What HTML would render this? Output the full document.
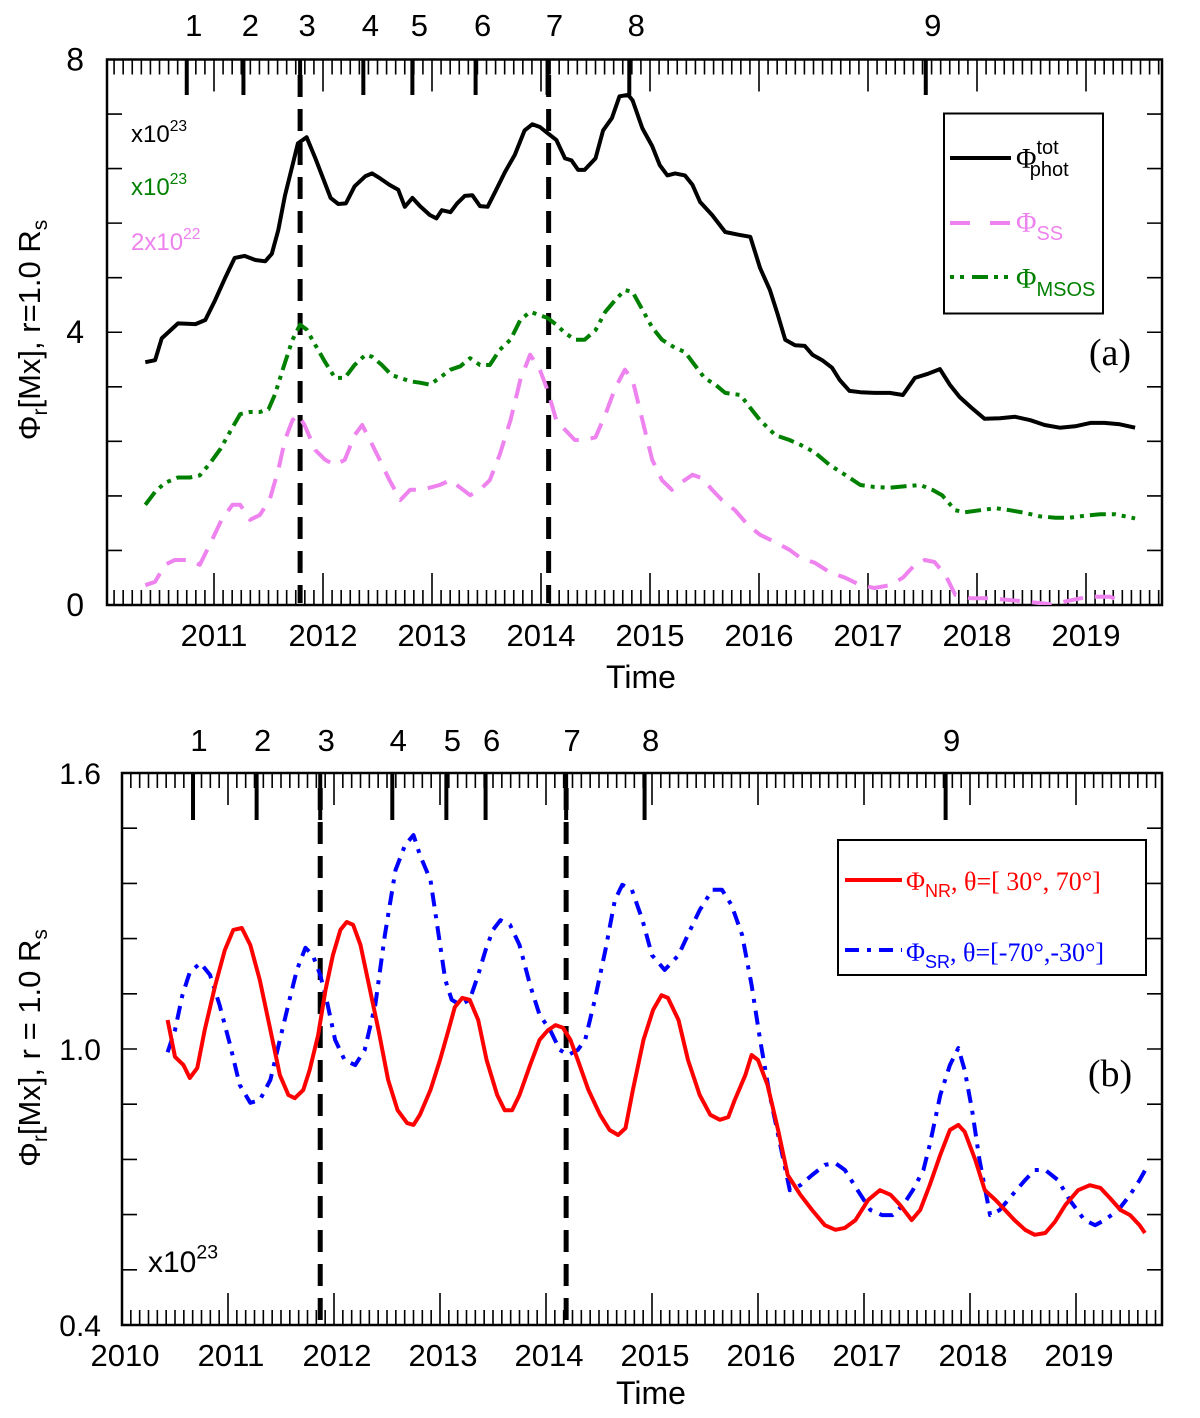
<!DOCTYPE html>
<html><head><meta charset="utf-8"><style>
html,body{margin:0;padding:0;background:#fff}
svg{display:block;font-family:"Liberation Sans",sans-serif}
</style></head><body>
<svg id="fig" width="1200" height="1418" viewBox="0 0 1200 1418" xmlns="http://www.w3.org/2000/svg">
<defs>
<clipPath id="clipA"><rect x="107" y="59.5" width="1055" height="545.5"/></clipPath>
<clipPath id="clipB"><rect x="122" y="773" width="1040" height="552"/></clipPath>
</defs>
<g id="A"></g>
<g id="B"></g>
</svg>
<script>
// ---------- Panel (a) data ----------
const totT=[2010.37,2010.46,2010.52,2010.67,2010.83,2010.92,2011.01,2011.10,2011.19,2011.28,2011.38,2011.47,2011.53,2011.59,2011.65,2011.72,2011.77,2011.85,2011.93,2012.00,2012.07,2012.14,2012.21,2012.29,2012.39,2012.45,2012.52,2012.61,2012.69,2012.75,2012.82,2012.89,2012.98,2013.04,2013.09,2013.17,2013.23,2013.30,2013.37,2013.44,2013.51,2013.58,2013.67,2013.76,2013.85,2013.92,2013.99,2014.06,2014.14,2014.22,2014.28,2014.34,2014.40,2014.50,2014.57,2014.65,2014.72,2014.80,2014.84,2014.93,2015.02,2015.09,2015.16,2015.23,2015.32,2015.39,2015.46,2015.57,2015.69,2015.81,2015.92,2016.01,2016.10,2016.17,2016.24,2016.33,2016.42,2016.49,2016.58,2016.67,2016.74,2016.83,2016.93,2017.06,2017.20,2017.32,2017.43,2017.55,2017.66,2017.75,2017.84,2017.95,2018.07,2018.21,2018.35,2018.49,2018.62,2018.76,2018.90,2019.04,2019.17,2019.31,2019.45];
const totV=[3.56,3.59,3.91,4.13,4.12,4.18,4.47,4.79,5.09,5.12,5.06,5.04,5.15,5.50,6.00,6.45,6.77,6.86,6.55,6.26,5.97,5.88,5.89,6.14,6.29,6.33,6.26,6.16,6.09,5.84,5.97,5.85,5.72,5.67,5.79,5.76,5.89,6.00,6.01,5.85,5.84,6.06,6.35,6.60,6.96,7.05,7.01,6.92,6.82,6.55,6.52,6.38,6.38,6.55,6.96,7.14,7.46,7.48,7.40,6.99,6.73,6.45,6.30,6.33,6.30,6.16,5.91,5.72,5.47,5.43,5.40,4.94,4.62,4.27,3.89,3.81,3.80,3.67,3.59,3.48,3.30,3.14,3.12,3.11,3.11,3.08,3.33,3.39,3.46,3.23,3.05,2.89,2.73,2.74,2.76,2.71,2.64,2.60,2.62,2.67,2.67,2.65,2.60];
const msosT=[2010.37,2010.46,2010.55,2010.67,2010.78,2010.87,2010.96,2011.06,2011.15,2011.24,2011.33,2011.42,2011.50,2011.56,2011.63,2011.72,2011.79,2011.85,2011.93,2012.02,2012.11,2012.20,2012.29,2012.39,2012.45,2012.54,2012.63,2012.71,2012.80,2012.89,2012.98,2013.07,2013.17,2013.26,2013.35,2013.44,2013.53,2013.62,2013.72,2013.81,2013.90,2013.99,2014.06,2014.14,2014.22,2014.31,2014.40,2014.50,2014.59,2014.68,2014.77,2014.84,2014.93,2015.02,2015.11,2015.23,2015.32,2015.41,2015.50,2015.60,2015.69,2015.83,2015.92,2016.01,2016.15,2016.28,2016.38,2016.51,2016.65,2016.79,2016.93,2017.06,2017.20,2017.34,2017.48,2017.59,2017.68,2017.80,2017.89,2018.03,2018.17,2018.30,2018.44,2018.58,2018.72,2018.85,2018.99,2019.13,2019.27,2019.45];
const msosV=[1.47,1.66,1.79,1.87,1.87,1.90,2.07,2.29,2.55,2.80,2.83,2.83,2.87,3.09,3.45,3.89,4.11,4.04,3.81,3.56,3.33,3.33,3.52,3.67,3.64,3.52,3.37,3.33,3.28,3.26,3.23,3.33,3.45,3.50,3.62,3.52,3.52,3.74,3.89,4.18,4.30,4.25,4.21,4.11,3.99,3.89,3.89,4.03,4.30,4.47,4.62,4.59,4.33,4.07,3.89,3.77,3.71,3.52,3.33,3.23,3.11,3.08,2.89,2.71,2.49,2.42,2.35,2.24,2.05,1.91,1.76,1.73,1.72,1.74,1.76,1.69,1.61,1.39,1.36,1.39,1.42,1.39,1.35,1.30,1.28,1.28,1.31,1.33,1.33,1.27];
const ssT=[2010.37,2010.46,2010.55,2010.64,2010.78,2010.87,2010.96,2011.07,2011.17,2011.24,2011.33,2011.42,2011.51,2011.59,2011.65,2011.72,2011.77,2011.83,2011.93,2012.02,2012.11,2012.20,2012.29,2012.36,2012.43,2012.52,2012.61,2012.71,2012.80,2012.89,2012.98,2013.07,2013.17,2013.26,2013.35,2013.44,2013.53,2013.62,2013.72,2013.81,2013.90,2013.99,2014.06,2014.14,2014.22,2014.31,2014.40,2014.50,2014.59,2014.68,2014.77,2014.84,2014.93,2015.02,2015.11,2015.20,2015.29,2015.39,2015.48,2015.57,2015.66,2015.78,2015.90,2016.01,2016.15,2016.28,2016.38,2016.51,2016.65,2016.79,2016.93,2017.06,2017.20,2017.32,2017.43,2017.52,2017.61,2017.71,2017.80,2017.94,2018.12,2018.38,2018.68,2019.02,2019.22,2019.36];
const ssV=[0.29,0.34,0.59,0.66,0.66,0.59,0.88,1.25,1.47,1.47,1.25,1.32,1.54,1.98,2.42,2.71,2.79,2.64,2.27,2.13,2.05,2.13,2.49,2.64,2.42,2.13,1.83,1.54,1.69,1.69,1.72,1.76,1.83,1.72,1.61,1.69,1.83,2.20,2.71,3.30,3.67,3.45,3.15,2.71,2.57,2.42,2.42,2.46,2.79,3.18,3.45,3.30,2.71,2.13,1.83,1.69,1.80,1.91,1.86,1.69,1.54,1.39,1.17,1.03,0.92,0.81,0.69,0.62,0.48,0.40,0.29,0.25,0.29,0.40,0.59,0.66,0.63,0.44,0.15,0.10,0.10,0.06,0.01,0.12,0.12,0.04];
const yearLabels=[2011,2012,2013,2014,2015,2016,2017,2018,2019];
const yTicksA=[0,4,8];
const eventsA=[2010.75,2011.27,2011.79,2012.37,2012.82,2013.40,2014.06,2014.81,2017.53];
const eventLabels=["1","2","3","4","5","6","7","8","9"];
const dashedA=[2011.79,2014.07];
// ---------- Panel (b) data ----------
const nrT=[2010.43,2010.50,2010.58,2010.64,2010.71,2010.78,2010.88,2010.97,2011.05,2011.13,2011.21,2011.30,2011.40,2011.49,2011.57,2011.63,2011.71,2011.77,2011.85,2011.92,2011.99,2012.06,2012.12,2012.18,2012.25,2012.32,2012.42,2012.51,2012.60,2012.69,2012.75,2012.81,2012.91,2013.00,2013.08,2013.14,2013.21,2013.28,2013.36,2013.44,2013.54,2013.61,2013.68,2013.75,2013.85,2013.94,2014.02,2014.09,2014.16,2014.23,2014.30,2014.40,2014.51,2014.60,2014.68,2014.75,2014.82,2014.92,2015.01,2015.09,2015.15,2015.25,2015.34,2015.45,2015.55,2015.64,2015.72,2015.78,2015.88,2015.94,2016.00,2016.09,2016.19,2016.28,2016.40,2016.51,2016.63,2016.73,2016.82,2016.92,2017.04,2017.15,2017.25,2017.34,2017.45,2017.53,2017.62,2017.72,2017.81,2017.89,2017.95,2018.05,2018.14,2018.24,2018.33,2018.42,2018.52,2018.61,2018.71,2018.80,2018.90,2019.02,2019.13,2019.23,2019.32,2019.42,2019.51,2019.60,2019.65];
const nrV=[1.063,0.983,0.965,0.937,0.959,1.041,1.139,1.215,1.259,1.263,1.226,1.150,1.041,0.943,0.900,0.893,0.911,0.954,1.030,1.128,1.204,1.259,1.276,1.270,1.226,1.150,1.041,0.933,0.867,0.839,0.835,0.857,0.911,0.976,1.041,1.091,1.111,1.107,1.063,0.976,0.900,0.867,0.867,0.900,0.965,1.020,1.041,1.052,1.046,1.020,0.976,0.911,0.857,0.824,0.813,0.828,0.911,1.020,1.085,1.117,1.111,1.063,0.976,0.900,0.857,0.846,0.852,0.889,0.943,0.987,0.976,0.922,0.824,0.726,0.683,0.650,0.617,0.607,0.611,0.628,0.672,0.693,0.683,0.661,0.628,0.650,0.704,0.770,0.824,0.835,0.820,0.759,0.693,0.672,0.650,0.628,0.607,0.596,0.600,0.624,0.661,0.693,0.704,0.698,0.676,0.650,0.639,0.617,0.600];
const srT=[2010.43,2010.50,2010.57,2010.64,2010.74,2010.83,2010.92,2011.02,2011.11,2011.21,2011.30,2011.40,2011.49,2011.58,2011.65,2011.73,2011.80,2011.87,2011.93,2012.01,2012.10,2012.20,2012.29,2012.39,2012.48,2012.58,2012.67,2012.75,2012.81,2012.91,2012.98,2013.05,2013.11,2013.19,2013.28,2013.36,2013.43,2013.50,2013.57,2013.66,2013.75,2013.85,2013.94,2014.04,2014.13,2014.21,2014.30,2014.37,2014.46,2014.56,2014.65,2014.72,2014.81,2014.91,2015.00,2015.12,2015.25,2015.36,2015.45,2015.57,2015.66,2015.75,2015.85,2015.94,2016.02,2016.11,2016.21,2016.30,2016.40,2016.51,2016.63,2016.73,2016.82,2016.94,2017.06,2017.17,2017.27,2017.37,2017.46,2017.56,2017.62,2017.72,2017.81,2017.89,2017.95,2018.02,2018.09,2018.19,2018.28,2018.40,2018.52,2018.61,2018.71,2018.83,2018.94,2019.08,2019.18,2019.27,2019.40,2019.51,2019.60,2019.68];
const srV=[0.993,1.041,1.117,1.167,1.187,1.161,1.096,1.009,0.922,0.883,0.889,0.933,1.020,1.107,1.172,1.220,1.204,1.161,1.107,1.020,0.976,0.965,0.998,1.096,1.248,1.389,1.443,1.465,1.422,1.367,1.259,1.150,1.107,1.096,1.107,1.161,1.215,1.259,1.280,1.270,1.226,1.139,1.074,1.041,0.998,0.987,0.998,1.020,1.107,1.215,1.324,1.357,1.346,1.280,1.204,1.172,1.204,1.259,1.302,1.346,1.346,1.313,1.248,1.139,1.020,0.900,0.791,0.693,0.704,0.726,0.748,0.752,0.737,0.693,0.650,0.639,0.639,0.661,0.693,0.737,0.791,0.900,0.965,1.002,0.954,0.867,0.759,0.639,0.650,0.683,0.715,0.737,0.737,0.715,0.672,0.628,0.617,0.628,0.650,0.683,0.715,0.748];
const yearLabelsB=[2010,2011,2012,2013,2014,2015,2016,2017,2018,2019];
const yTicksB=[0.4,1.0,1.6];
const eventsB=[2010.67,2011.27,2011.87,2012.55,2013.06,2013.43,2014.19,2014.93,2017.77];
const dashedB=[2011.87,2014.19];

const NS="http://www.w3.org/2000/svg";
function mk(parent,tag,attrs,text){const e=document.createElementNS(NS,tag);for(const k in attrs)e.setAttribute(k,attrs[k]);if(text!==undefined)e.textContent=text;parent.appendChild(e);return e;}

const xA=t=>214+(t-2011)*109, yA=v=>605-v*68.19;
const xB=t=>122+(t-2010)*106, yB=v=>1325-(v-0.4)*460;

function frame(g,L,T,R,Bm,xf,t0,t1,name){
  let r=mk(g,'rect',{x:L,y:T,width:R-L,height:Bm-T,fill:'none',stroke:'#000','stroke-width':2.5});
  
  
  let d='';
  for(let m=Math.ceil(t0*12);m<=t1*12;m++){
    const t=m/12,x=xf(t); if(x<L+1||x>R-1)continue;
    const yr=(m%12===0), len=yr?32:15;
    d+=`M${x} ${Bm}v${-len}M${x} ${T}v${len}`;
  }
  let p=mk(g,'path',{d:d,stroke:'#000','stroke-width':1.6,fill:'none'});
  
  
}
function curve(g,T,V,xf,yf,attrs,name,clip){
  let d=T.map((t,i)=>(i?'L':'M')+xf(t).toFixed(1)+' '+yf(V[i]).toFixed(1)).join('');
  let p=mk(g,'path',Object.assign({d:d,fill:'none','stroke-linejoin':'round','clip-path':clip},attrs));
  
  
}
function txt(g,x,y,s,attrs,name){let e=mk(g,'text',Object.assign({x:x,y:y},attrs),s);return e;}

// ---------- Panel A ----------
const A=document.getElementById('A');
frame(A,107,59.5,1162,605,xA,2010,2020,'panel-a');
let dy='';
for(let i=1;i<10;i++){const y=yA(i*0.8);dy+=`M107 ${y}h15M1162 ${y}h-15`;}
let pya=mk(A,'path',{d:dy,stroke:'#000','stroke-width':1.6});


yTicksA.forEach(v=>txt(A,84,yA(v)+11,String(v),{'font-size':32,'text-anchor':'end'},'y-tick-label-a'));
yearLabels.forEach(y=>txt(A,xA(y),646,String(y),{'font-size':31,'text-anchor':'middle'},'x-tick-label-a'));
txt(A,641,688,'Time',{'font-size':32,'text-anchor':'middle'},'x-axis-title-a');
eventsA.forEach((t,i)=>{
  let l=mk(A,'line',{x1:xA(t),x2:xA(t),y1:59.5,y2:95,stroke:'#000','stroke-width':4});
  
  
  txt(A,xA(t)+7,36,eventLabels[i],{'font-size':31,'text-anchor':'middle'},'event-label-a');
});
dashedA.forEach(t=>{
  let l=mk(A,'line',{x1:xA(t),x2:xA(t),y1:75,y2:603,stroke:'#000','stroke-width':5,'stroke-dasharray':'22 12'});
  
  
});
curve(A,ssT,ssV,xA,yA,{stroke:'#ee82ee','stroke-width':4,'stroke-dasharray':'20 12'},'ss-series','url(#clipA)');
curve(A,msosT,msosV,xA,yA,{stroke:'#008000','stroke-width':4,'stroke-dasharray':'16 6 4 6 4 6'},'msos-series','url(#clipA)');
curve(A,totT,totV,xA,yA,{stroke:'#000','stroke-width':4},'phot-tot-series','url(#clipA)');
function sci(g,x,y,pre,exp,col,fs,name){let t=txt(g,x,y,'',{'font-size':fs,fill:col},name);mk(t,'tspan',{},pre);mk(t,'tspan',{dy:-fs*0.45,'font-size':fs*0.65},exp);}
sci(A,131,142,'x10','23','#000',24,'scale-note-black');
sci(A,131,195,'x10','23','#008000',24,'scale-note-green');
sci(A,131,250,'2x10','22','#ee82ee',24,'scale-note-pink');
txt(A,1110,365,'(a)',{'font-size':38,'font-family':'Liberation Serif,serif','text-anchor':'middle'},'panel-label-a');
const LA=mk(A,'g',{});


mk(LA,'rect',{x:944,y:113.5,width:159,height:200,fill:'#fff',stroke:'#000','stroke-width':2});
mk(LA,'line',{x1:950,x2:1011,y1:158,y2:158,stroke:'#000','stroke-width':4});
mk(LA,'line',{x1:950,x2:1011,y1:223,y2:223,stroke:'#ee82ee','stroke-width':4,'stroke-dasharray':'20 20'});
mk(LA,'line',{x1:950,x2:1011,y1:277,y2:277,stroke:'#008000','stroke-width':4,'stroke-dasharray':'4 6 4 8 16 6 4 6'});
function phi(g,x,y,sub,sup,col,name){let t=txt(g,x,y,'',{'font-size':28,fill:col,'font-family':'Liberation Serif,serif'},name);mk(t,'tspan',{},'Φ');
 if(sup){mk(t,'tspan',{dx:0,dy:-14,'font-size':20,'font-family':'Liberation Sans,sans-serif'},sup);mk(t,'tspan',{dx:-29,dy:22,'font-size':20,'font-family':'Liberation Sans,sans-serif'},sub);}
 else mk(t,'tspan',{dy:8,'font-size':20,'font-family':'Liberation Sans,sans-serif'},sub);return t;}
phi(LA,1016,168,'phot','tot','#000','legend-phot-tot');
phi(LA,1016,232,'SS',null,'#ee82ee','legend-ss');
phi(LA,1016,288,'MSOS',null,'#008000','legend-msos');
let ta=txt(A,0,0,'',{'font-size':31,transform:'translate(40,330) rotate(-90)','text-anchor':'middle'},'y-axis-title-a');
mk(ta,'tspan',{},'Φ');mk(ta,'tspan',{dy:7,'font-size':21},'r');mk(ta,'tspan',{dy:-7},'[Mx], r=1.0 R');mk(ta,'tspan',{dy:7,'font-size':21},'s');

// ---------- Panel B ----------
const B=document.getElementById('B');
frame(B,122,773,1162,1325,xB,2010,2020,'panel-b');
let dyb='';
for(let i=1;i<10;i++){const y=yB(0.4+i*0.12);dyb+=`M122 ${y}h15M1162 ${y}h-15`;}
let pyb=mk(B,'path',{d:dyb,stroke:'#000','stroke-width':1.6});


yTicksB.forEach(v=>txt(B,101,yB(v)+11,v.toFixed(1),{'font-size':30,'text-anchor':'end'},'y-tick-label-b'));
yearLabelsB.forEach(y=>txt(B,xB(y)+3,1366,String(y),{'font-size':31,'text-anchor':'middle'},'x-tick-label-b'));
txt(B,651,1404,'Time',{'font-size':32,'text-anchor':'middle'},'x-axis-title-b');
eventsB.forEach((t,i)=>{
  let l=mk(B,'line',{x1:xB(t),x2:xB(t),y1:773,y2:820,stroke:'#000','stroke-width':4});
  
  
  txt(B,xB(t)+6,751,eventLabels[i],{'font-size':31,'text-anchor':'middle'},'event-label-b');
});
dashedB.forEach(t=>{
  let l=mk(B,'line',{x1:xB(t),x2:xB(t),y1:788,y2:1325,stroke:'#000','stroke-width':5,'stroke-dasharray':'22 12'});
  
  
});
curve(B,srT,srV,xB,yB,{stroke:'#0000ff','stroke-width':4,'stroke-dasharray':'14 8 4 8'},'sr-series','url(#clipB)');
curve(B,nrT,nrV,xB,yB,{stroke:'#ff0000','stroke-width':4},'nr-series','url(#clipB)');
sci(B,148,1272,'x10','23','#000',30,'scale-note-b');
txt(B,1110,1086,'(b)',{'font-size':38,'font-family':'Liberation Serif,serif','text-anchor':'middle'},'panel-label-b');
const LB=mk(B,'g',{});


mk(LB,'rect',{x:838,y:840,width:308,height:135,fill:'#fff',stroke:'#000','stroke-width':2});
mk(LB,'line',{x1:845,x2:902,y1:880,y2:880,stroke:'#ff0000','stroke-width':4});
mk(LB,'line',{x1:845,x2:902,y1:950,y2:950,stroke:'#0000ff','stroke-width':4,'stroke-dasharray':'14 8 4 8'});
function legB(y,sub,rng,col,name){let t=txt(LB,906,y,'',{'font-size':26,fill:col,'font-family':'Liberation Serif,serif'},name);mk(t,'tspan',{},'Φ');mk(t,'tspan',{dy:7,'font-size':18,'font-family':'Liberation Sans,sans-serif'},sub);mk(t,'tspan',{dy:-7},', θ=['+rng+']');}
legB(890,'NR',' 30°, 70°','#ff0000','legend-nr');
legB(961,'SR','-70°,-30°','#0000ff','legend-sr');
let tb=txt(B,0,0,'',{'font-size':31,transform:'translate(40,1048) rotate(-90)','text-anchor':'middle'},'y-axis-title-b');
mk(tb,'tspan',{},'Φ');mk(tb,'tspan',{dy:7,'font-size':21},'r');mk(tb,'tspan',{dy:-7},'[Mx], r = 1.0 R');mk(tb,'tspan',{dy:7,'font-size':21},'s');
</script>
</body></html>
